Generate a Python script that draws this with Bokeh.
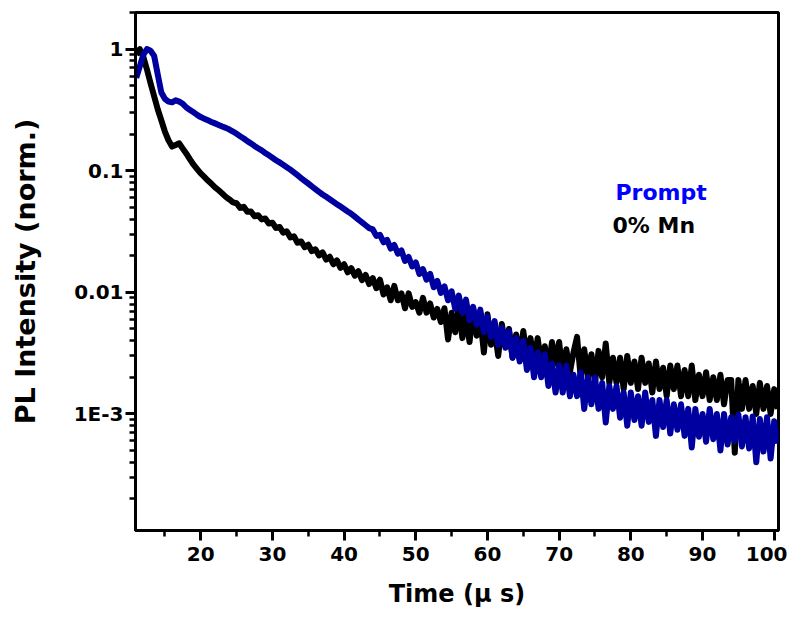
from bokeh.plotting import figure
from bokeh.models import Range1d, FixedTicker, CustomJSTickFormatter, Label
from bokeh.embed import file_html
from bokeh.resources import INLINE

# ---------------- data ----------------
time_us = [11.0 + 0.5 * i for i in range(180)]   # sampling grid, 11.0 ... 100.5 us

prompt = [
    0.58, 0.72, 0.90, 1.00, 0.97, 0.88, 0.62, 0.44, 0.39, 0.37,
    0.365, 0.38, 0.37, 0.355, 0.331, 0.316, 0.302, 0.288, 0.276, 0.268,
    0.260, 0.252, 0.245, 0.238, 0.231, 0.225, 0.218, 0.210, 0.201, 0.192,
    0.184, 0.175, 0.168, 0.160, 0.153, 0.147, 0.140, 0.134, 0.128, 0.122,
    0.117, 0.112, 0.107, 0.102, 0.0968, 0.0918, 0.0871, 0.0826, 0.0785, 0.0745,
    0.0706, 0.0670, 0.0638, 0.0610, 0.0582, 0.0556, 0.0531, 0.0507, 0.0484, 0.0462,
    0.0442, 0.0419, 0.0396, 0.0376, 0.0356, 0.0337, 0.0329, 0.0291, 0.0297, 0.0258,
    0.0270, 0.0229, 0.0245, 0.0208, 0.0221, 0.0181, 0.0195, 0.0163, 0.0176, 0.0142,
    0.0155, 0.0127, 0.0142, 0.0110, 0.0124, 0.0099, 0.0112, 0.0086, 0.0102, 0.0073,
    0.0094, 0.0068, 0.0087, 0.0059, 0.0076, 0.0054, 0.0072, 0.0047, 0.0063, 0.0043,
    0.0058, 0.0037, 0.0051, 0.0035, 0.0048, 0.0029, 0.0042, 0.0027, 0.0040, 0.0023,
    0.0035, 0.0020, 0.0032, 0.0020, 0.0031, 0.0017, 0.0026, 0.0015, 0.0025, 0.0015,
    0.0025, 0.0014, 0.0021, 0.0014, 0.0022, 0.0011, 0.0020, 0.0012, 0.0020, 0.0011,
    0.0018, 0.00085, 0.0017, 0.0011, 0.0017, 0.00093, 0.0015, 0.00080, 0.0015, 0.00089,
    0.0014, 0.00080, 0.0015, 0.00086, 0.0013, 0.00066, 0.0013, 0.00078, 0.0013, 0.00069,
    0.0012, 0.00074, 0.0012, 0.00066, 0.0011, 0.00053, 0.0011, 0.00065, 0.0010, 0.00059,
    0.0011, 0.00062, 0.0010, 0.00050, 0.0010, 0.00056, 0.00094, 0.00060, 0.00099, 0.00054,
    0.00094, 0.00052, 0.00095, 0.00040, 0.00091, 0.00049, 0.00094, 0.00043, 0.00087, 0.00057,
]

mn0 = [
    0.90, 1.00, 0.86, 0.68, 0.525, 0.41, 0.32, 0.26, 0.21, 0.178,
    0.158, 0.163, 0.168, 0.152, 0.138, 0.124, 0.112, 0.103, 0.095, 0.089,
    0.083, 0.078, 0.073, 0.069, 0.065, 0.061, 0.058, 0.055, 0.054, 0.0495,
    0.0505, 0.0460, 0.0462, 0.0422, 0.0431, 0.0398, 0.0405, 0.0368, 0.0374, 0.0338,
    0.0345, 0.0310, 0.0318, 0.0283, 0.0289, 0.0256, 0.0262, 0.0235, 0.0246, 0.0218,
    0.0226, 0.0201, 0.0213, 0.0186, 0.0196, 0.0170, 0.0183, 0.0159, 0.0170, 0.0146,
    0.0158, 0.0137, 0.0149, 0.0126, 0.0139, 0.0117, 0.0131, 0.0108, 0.0127, 0.0096,
    0.0110, 0.0086, 0.0113, 0.0086, 0.0098, 0.0074, 0.0098, 0.0076, 0.0083, 0.0068,
    0.0090, 0.0068, 0.0081, 0.0062, 0.0073, 0.0057, 0.0074, 0.0041, 0.0068, 0.0047,
    0.0075, 0.0042, 0.0064, 0.0039, 0.0071, 0.0044, 0.0061, 0.0032, 0.0066, 0.0037,
    0.0049, 0.0030, 0.0055, 0.0036, 0.0050, 0.0029, 0.0045, 0.0028, 0.0048, 0.0029,
    0.0042, 0.0026, 0.0042, 0.0026, 0.0036, 0.0023, 0.0039, 0.0026, 0.0039, 0.0021,
    0.0034, 0.0022, 0.0032, 0.0043, 0.0020, 0.0034, 0.0020, 0.0031, 0.0018, 0.0033,
    0.0020, 0.0038, 0.0018, 0.0029, 0.0018, 0.0029, 0.0016, 0.0030, 0.0018, 0.0027,
    0.0016, 0.0029, 0.0018, 0.0026, 0.0015, 0.0027, 0.0016, 0.0024, 0.0014, 0.0025,
    0.0016, 0.0025, 0.0014, 0.0023, 0.0014, 0.0025, 0.0013, 0.0021, 0.0014, 0.0022,
    0.0013, 0.0020, 0.0013, 0.0021, 0.0012, 0.0019, 0.0019, 0.00048, 0.0019, 0.0011,
    0.0019, 0.0011, 0.0017, 0.0010, 0.0018, 0.0011, 0.0017, 0.0010, 0.0016, 0.0011,
]

x_ticks = [20, 30, 40, 50, 60, 70, 80, 90, 100]
x_minor_ticks = [15, 25, 35, 45, 55, 65, 75, 85, 95]
y_ticks = [1.0, 0.1, 0.01, 0.001]
y_tick_labels = ["1", "0.1", "0.01", "1E-3"]

series_names = ["Prompt", "0% Mn"]

# ---------------- figure ----------------
FONT = "DejaVu Sans"

p = figure(
    frame_width=643, frame_height=518,
    min_border_left=135, min_border_right=9, min_border_top=12, min_border_bottom=89,
    x_range=Range1d(10.9, 100.6), y_range=Range1d(1.1e-4, 2.0),
    y_axis_type="log",
    output_backend="svg", toolbar_location=None,
    background_fill_color="white", border_fill_color="white",
)

p.xgrid.visible = False
p.ygrid.visible = False
p.outline_line_color = "black"
p.outline_line_width = 3
p.outline_line_alpha = 1.0

# curves (black first, blue on top)
p.line(time_us, mn0, line_color="black", line_width=6, line_join="round")
p.line(time_us, prompt, line_color="#0000a0", line_width=6, line_join="round")

# y minor ticks: 2..9 in every decade
y_minor = []
for d in [1e-4, 1e-3, 1e-2, 1e-1, 1.0]:
    for k in range(2, 10):
        y_minor.append(k * d)

p.xaxis.ticker = FixedTicker(ticks=x_ticks, minor_ticks=x_minor_ticks)
p.yaxis.ticker = FixedTicker(ticks=y_ticks, minor_ticks=y_minor)
p.yaxis.formatter = CustomJSTickFormatter(
    args=dict(tvals=y_ticks, tlabs=y_tick_labels),
    code="""
    for (let i = 0; i < tvals.length; i++) {
        if (Math.abs(Math.log10(tick) - Math.log10(tvals[i])) < 1e-6) return tlabs[i];
    }
    return '';
    """,
)

for ax in (p.xaxis, p.yaxis):
    ax.axis_line_width = 3
    ax.axis_line_color = "black"
    ax.major_tick_line_width = 3
    ax.minor_tick_line_width = 2.5
    ax.major_tick_line_color = "black"
    ax.minor_tick_line_color = "black"
    ax.major_tick_out = 10
    ax.major_tick_in = 0
    ax.minor_tick_out = 6
    ax.minor_tick_in = 0
    ax.major_label_text_font = FONT
    ax.major_label_text_font_style = "bold"
    ax.major_label_text_font_size = "20px"
    ax.major_label_text_color = "black"
    ax.axis_label_text_font = FONT
    ax.axis_label_text_font_style = "bold"
    ax.axis_label_text_color = "black"

p.xaxis.major_label_standoff = 6
p.xaxis.axis_label = "Time (\u03bc s)"
p.xaxis.axis_label_text_font_size = "24px"
p.xaxis.axis_label_standoff = 16

p.yaxis.major_label_standoff = 2
p.yaxis.axis_label = "PL Intensity (norm.)"
p.yaxis.axis_label_text_font_size = "27px"
p.yaxis.axis_label_standoff = 30

# legend-like labels
p.add_layout(Label(x=77.85, y=0.0662, text=series_names[0], text_font=FONT,
                   text_font_style="bold", text_font_size="22px",
                   text_color="#0000ff", text_baseline="alphabetic"))
p.add_layout(Label(x=77.45, y=0.0354, text=series_names[1], text_font=FONT,
                   text_font_style="bold", text_font_size="22px",
                   text_color="black", text_baseline="alphabetic"))

open("out.html", "w").write(file_html(p, INLINE))
